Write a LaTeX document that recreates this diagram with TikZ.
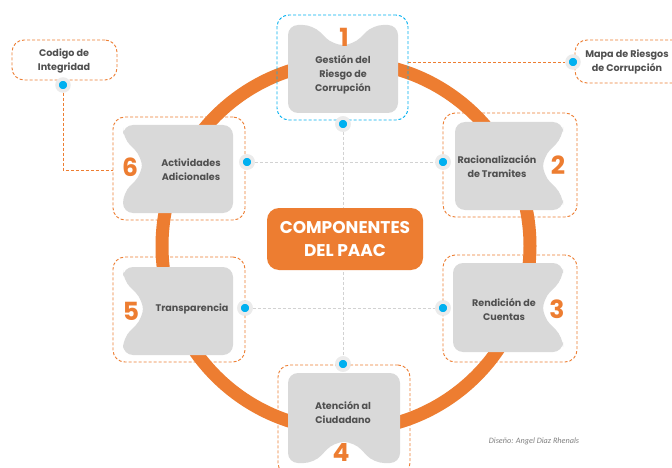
\documentclass[tikz,border=0pt]{standalone}
\usepackage{fontspec}
\setmainfont{Poppins}
\newfontfamily\footfont{Carlito}
\definecolor{orng}{HTML}{ED7D31}
\definecolor{gbox}{HTML}{D9D9D9}
\definecolor{txt}{HTML}{505050}
\definecolor{blu}{HTML}{00B0F0}
\definecolor{halo}{HTML}{EBEBEB}
\begin{document}
\begin{tikzpicture}[x=1pt,y=-1pt,
  frame/.style={draw=orng, dash pattern=on 3pt off 2pt, line width=0.9pt, rounded corners=12pt, inner sep=0pt},
  bframe/.style={frame, draw=blu},
  gshape/.style={fill=gbox, rounded corners=10pt},
  lbl/.style={font=\bfseries\fontsize{9.6}{14}\selectfont, text=txt, align=center, inner sep=0pt},
  num/.style={font=\bfseries\fontsize{25}{25}\selectfont, text=orng, inner sep=0pt},
  dotc/.style={circle, fill=blu, draw=halo, line width=3.5pt, minimum size=12pt, inner sep=0pt},
  guide/.style={draw=gray!35, dash pattern=on 3pt off 2pt, line width=0.6pt},
  link/.style={draw=orng, dash pattern=on 3pt off 2pt, line width=0.9pt}
]
\useasboundingbox (0,0) rectangle (672,468);
\fill[white] (0,0) rectangle (672,468);

% dots (defined first for guide lines)
\node[dotc] (d1) at (343,124) {};
\node[dotc] (d2) at (443,162) {};
\node[dotc] (d3) at (443,308) {};
\node[dotc] (d4) at (343,364) {};
\node[dotc] (d5) at (245,308) {};
\node[dotc] (d6) at (247,162) {};

% guide lines
\draw[guide] (d6) -- (d2);
\draw[guide] (d5) -- (d3);
\draw[guide] (d1) -- (d4);

% ring
\draw[orng, line width=13pt] (346,246) circle (184pt);

% frames
\node[bframe, minimum width=131pt, minimum height=105pt] (f1) at (342.5,67.5) {};
\node[frame, minimum width=134pt, minimum height=104pt] (f2) at (510,165) {};
\node[frame, minimum width=134pt, minimum height=107pt] (f3) at (510,308.5) {};
\node[frame, minimum width=132pt, minimum height=110pt] (f4) at (344,420) {};
\node[frame, minimum width=132pt, minimum height=105pt] (f5) at (179,309.5) {};
\node[frame, minimum width=132pt, minimum height=103pt] (f6) at (179,168.5) {};
\node[frame, minimum width=105pt, minimum height=40pt] (fc) at (64.5,60) {};
\node[frame, minimum width=120pt, minimum height=43pt] (fm) at (635,61.5) {};

% grey shapes
\fill[gshape] (343,113) -- (288,113) -- (288,25) -- (313,25) -- (333,45) -- (353,45) -- (373,25) -- (398,25) -- (398,113) -- cycle;
\fill[gshape] (455,166) -- (455,122) -- (563,122) -- (563,137) -- (543,157) -- (543,175) -- (563,195) -- (563,210) -- (455,210) -- cycle;
\fill[gshape] (453,308) -- (453,263) -- (563,263) -- (563,279) -- (543,299) -- (543,317) -- (563,337) -- (563,352) -- (453,352) -- cycle;
\fill[gshape] (344,373) -- (400,373) -- (400,463) -- (374,463) -- (354,442) -- (334,442) -- (314,463) -- (288,463) -- (288,373) -- cycle;
\fill[gshape] (178,355) -- (123,355) -- (123,338) -- (143,318) -- (143,300) -- (123,280) -- (123,267) -- (233,267) -- (233,355) -- cycle;
\fill[gshape] (178,213) -- (123,213) -- (123,193) -- (142,174) -- (142,157) -- (123,138) -- (123,125) -- (233,125) -- (233,213) -- cycle;

% labels
\node[lbl] (t1) at (343,75) {Gestión del\\Riesgo de\\Corrupción};
\node[lbl] (t2) at (497,167) {Racionalización\\de Tramites};
\node[lbl] (t3) at (504,310) {Rendición de\\Cuentas};
\node[lbl] (t4) at (343,413) {Atención al\\Ciudadano};
\node[lbl] (t5) at (192,309) {Transparencia};
\node[lbl] (t6) at (191,170) {Actividades\\Adicionales};
\node[lbl] (tc) at (64,61) {Codigo de\\Integridad};
\node[lbl] (tm) at (627,62) {Mapa de Riesgos\\de Corrupción};

% numbers
\node[num] (n1) at (344,37) {1};
\node[num] (n2) at (558,165) {2};
\node[num] (n3) at (557,309) {3};
\node[num] (n4) at (341,452) {4};
\node[num] (n5) at (131,311) {5};
\node[num] (n6) at (130,167) {6};

% redraw dots on top
\node[dotc] at (d1) {};
\node[dotc] at (d2) {};
\node[dotc] at (d3) {};
\node[dotc] at (d4) {};
\node[dotc] at (d5) {};
\node[dotc] at (d6) {};

% side notes links
\node[dotc] (dc) at (63,85) {};
\node[dotc] (dm) at (573,62) {};
\coordinate (cbend) at (63,170);
\draw[link] (dc) -- (cbend) -- (cbend -| f6.west);
\draw[link] (f1.east |- dm) -- (dm);

% center
\node[fill=orng, rounded corners=12pt, minimum width=156pt, minimum height=62pt, text=white, align=center, font=\bfseries\fontsize{17}{23}\selectfont] (ctr) at (345,239) {COMPONENTES\\DEL PAAC};

% footer
\node[font=\footfont\itshape\fontsize{8.2}{10}\selectfont, text=gray, inner sep=0pt] (ft) at (534,441) {Diseño: Angel Diaz Rhenals};
\end{tikzpicture}
\end{document}
